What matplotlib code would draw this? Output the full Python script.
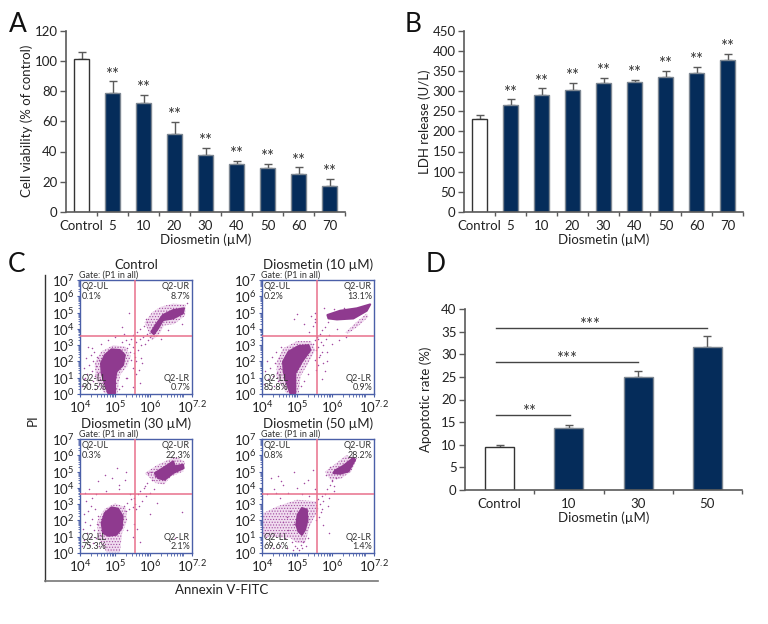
import numpy as np
import matplotlib
matplotlib.use("Agg")
import matplotlib.pyplot as plt
from matplotlib.lines import Line2D

plt.rcParams['font.family'] = ['Lato', 'DejaVu Sans']
plt.rcParams['mathtext.default'] = 'regular'
plt.rcParams['hatch.linewidth'] = 0.5

W, H = 768, 624
NAVY = '#052c5a'
GREY = '#5a5a5a'
BLUE = '#4a5fa8'
PINK = '#e8708c'
CORE = '#8f3a8f'
HALO = '#f0dcef'
DOT = '#a24aa0'

# Panel A
doses_ab = ['Control', '5', '10', '20', '30', '40', '50', '60', '70']
viability = [101, 78.5, 72, 51.5, 37.5, 31.5, 29, 25, 17]
viability_top = [105.5, 86.5, 77.5, 59.5, 42.5, 34, 32, 29.5, 22]

# Panel B
ldh = [230, 265, 290, 302, 320, 323, 334, 344, 377]
ldh_top = [240, 279, 307, 320, 332, 328, 350, 360, 392]

# Panel D
doses_d = ['Control', '10', '30', '50']
apoptosis = [9.4, 13.8, 25, 31.7]
apoptosis_top = [9.9, 14.3, 26.2, 34]
bracket_end = [1.02, 2.0, 2.99]
bracket_y = [16.5, 28.2, 35.7]
bracket_text = ['**', '***', '***']
bracket_text_x = [0.42, 0.97, 1.3]

# Panel C, log10 values
flow_titles = ['Control', 'Diosmetin (10 µM)', 'Diosmetin (30 µM)', 'Diosmetin (50 µM)']
flow_ul = ['0.1%', '0.2%', '0.3%', '0.8%']
flow_ur = ['8.7%', '13.1%', '22.3%', '28.2%']
flow_ll = ['90.5%', '85.8%', '75.3%', '69.6%']
flow_lr = ['0.7%', '0.9%', '2.1%', '1.4%']
gate_x = [5.57, 5.57, 5.57, 5.57]
gate_y = [3.58, 3.58, 3.65, 3.65]

ll_core_x = [[4.81, 4.71, 4.62, 4.60, 4.71, 4.90, 5.14, 5.28, 5.23, 5.04, 5.00, 5.00],
             [4.81, 4.71, 4.62, 4.60, 4.76, 5.04, 5.33, 5.38, 5.14, 4.95, 4.95],
             [4.66, 4.62, 4.71, 4.90, 5.09, 5.22, 5.19, 5.04, 4.81],
             [4.98, 5.02, 5.14, 5.28, 5.30, 5.23, 5.14, 5.04]]
ll_core_y = [[0.04, 0.65, 1.27, 1.88, 2.39, 2.74, 2.70, 2.39, 1.78, 1.37, 0.86, 0.04],
             [0.04, 0.65, 1.37, 1.98, 2.60, 2.94, 3.00, 2.70, 1.98, 1.27, 0.04],
             [1.23, 1.84, 2.45, 2.80, 2.72, 2.25, 1.53, 1.12, 1.06],
             [1.74, 2.35, 2.76, 2.66, 2.04, 1.43, 1.12, 1.33]]
ll_halo_x = [[4.70, 4.45, 4.42, 4.60, 4.95, 5.30, 5.45, 5.35, 5.15, 5.10, 5.08],
             [4.70, 4.42, 4.42, 4.60, 5.00, 5.40, 5.52, 5.30, 5.10, 5.05],
             [4.76, 4.50, 4.50, 4.70, 5.00, 5.30, 5.35, 5.20, 5.14],
             [4.03, 4.43, 5.00, 5.57, 5.61, 5.38, 5.23, 5.00, 4.81, 4.03]]
ll_halo_y = [[0.04, 0.90, 1.90, 2.60, 3.00, 2.90, 2.30, 1.70, 1.20, 0.60, 0.04],
             [0.04, 1.00, 2.00, 2.80, 3.25, 3.25, 2.70, 1.80, 1.10, 0.04],
             [0.04, 1.00, 2.00, 2.70, 3.05, 2.80, 2.00, 1.20, 0.04],
             [2.45, 2.86, 3.27, 3.17, 2.66, 1.74, 0.61, 0.61, 0.92, 1.02]]
ur_core_x = [[6.04, 6.18, 6.37, 6.66, 6.97, 6.94, 6.66, 6.37, 6.23, 6.11],
             [5.87, 6.23, 6.71, 7.09, 6.99, 6.61, 6.14, 5.90],
             [6.14, 6.37, 6.52, 6.66, 6.71, 6.94, 6.96, 6.66, 6.42, 6.23],
             [6.09, 6.33, 6.61, 6.66, 6.47, 6.23, 6.04]]
ur_core_y = [[3.82, 4.29, 4.85, 5.15, 5.26, 4.95, 4.64, 4.54, 4.03, 3.68],
             [4.85, 5.11, 5.26, 5.50, 5.11, 4.64, 4.58, 4.64],
             [4.91, 5.21, 5.42, 5.62, 5.32, 5.42, 5.21, 4.91, 4.50, 4.60],
             [5.07, 5.36, 5.83, 5.73, 5.01, 4.87, 4.91]]
ur_halo_x = [[5.85, 6.05, 6.30, 6.65, 7.02, 7.00, 6.70, 6.40, 6.25, 6.05],
             [6.37, 6.71, 6.99, 7.04, 6.75, 6.47],
             [5.85, 6.20, 6.55, 6.75, 7.00, 6.95, 6.60, 6.40, 6.15],
             [5.80, 6.05, 6.40, 6.72, 6.55, 6.25, 5.95]]
ur_halo_y = [[4.40, 5.00, 5.35, 5.55, 5.50, 4.80, 4.30, 4.20, 3.60, 3.30],
             [3.76, 4.44, 4.95, 4.74, 4.17, 3.72],
             [4.90, 5.40, 5.75, 5.90, 5.60, 5.00, 4.70, 4.20, 4.30],
             [5.00, 5.40, 6.00, 5.85, 5.00, 4.55, 4.50]]

dots_x = [
    [4.05, 4.10, 4.12, 4.18, 4.20, 4.25, 4.28, 4.30, 4.33, 4.36, 4.38, 4.40, 4.42, 4.45, 4.48, 4.50,
     4.52, 4.55, 4.57, 4.35, 4.44, 4.22, 4.15, 5.20, 5.30, 5.35, 5.40, 5.42, 5.45, 5.50, 5.52, 5.55,
     5.60, 5.62, 5.65, 5.70, 5.72, 5.75, 5.80, 5.82, 5.85, 5.90, 5.92, 5.95, 6.00, 5.60, 5.75, 5.50,
     5.88, 5.10, 5.20, 5.35, 5.60, 5.72, 5.50, 6.30, 6.50, 6.90, 4.60, 4.80, 5.00, 5.20, 5.40, 7.05,
     5.68, 5.78, 5.58, 5.47, 5.30, 5.25],
    [4.05, 4.08, 4.15, 4.18, 4.22, 4.28, 4.30, 4.33, 4.36, 4.40, 4.42, 4.45, 4.48, 4.50, 4.55, 4.25,
     5.45, 5.50, 5.55, 5.58, 5.60, 5.65, 5.68, 5.72, 5.75, 5.80, 5.82, 5.88, 5.90, 5.62, 5.52, 5.70,
     5.60, 5.55, 5.75, 5.35, 5.45, 5.50, 5.85, 5.10, 5.20, 5.30, 4.90, 5.00, 5.40, 5.50, 5.52, 5.20,
     5.80, 5.70, 6.00, 6.20, 6.40, 5.60, 5.65, 6.05, 6.15, 6.35, 5.78, 5.85],
    [4.05, 4.08, 4.10, 4.12, 4.15, 4.18, 4.20, 4.22, 4.25, 4.28, 4.30, 4.32, 4.35, 4.38, 4.40, 4.42,
     4.45, 4.48, 4.52, 4.55, 4.58, 4.35, 4.25, 4.15, 5.25, 5.30, 5.35, 5.40, 5.45, 5.50, 5.55, 5.58,
     5.60, 5.65, 5.68, 5.72, 5.78, 5.82, 5.88, 5.92, 6.00, 6.05, 6.10, 6.15, 5.55, 5.62, 5.50, 5.70,
     5.85, 5.95, 6.02, 4.50, 4.70, 4.90, 5.10, 5.30, 4.45, 5.35, 6.00, 6.20, 6.70, 6.90, 4.75, 5.05,
     5.42, 5.28, 5.12],
    [4.60, 4.65, 4.70, 4.75, 4.80, 4.85, 4.90, 4.95, 4.55, 4.45, 4.35, 4.25, 4.15, 4.10, 4.30, 4.50,
     4.70, 4.88, 5.05, 5.10, 5.18, 5.25, 5.30, 5.15, 5.00, 5.60, 5.65, 5.70, 5.75, 5.80, 5.85, 5.90,
     5.95, 6.00, 5.72, 5.62, 5.68, 5.55, 5.88, 5.75, 5.90, 6.05, 5.82, 4.50, 4.60, 4.75, 5.00, 5.15,
     5.30, 5.45, 5.35, 4.40, 4.90, 5.20, 5.50, 5.95, 6.10, 6.20, 6.05, 6.00],
]
dots_y = [
    [0.50, 1.60, 0.90, 2.20, 1.20, 1.80, 0.60, 2.40, 1.40, 2.00, 0.80, 2.60, 1.10, 1.70, 2.30, 0.50,
     1.30, 2.10, 0.90, 2.80, 0.30, 2.90, 1.00, 3.20, 3.30, 2.80, 3.10, 2.60, 3.40, 2.90, 3.60, 2.50,
     3.20, 3.80, 2.70, 3.40, 4.00, 3.00, 3.50, 4.20, 3.10, 3.70, 4.40, 3.30, 3.50, 2.00, 2.20, 1.60,
     4.60, 0.30, 0.50, 1.00, 1.20, 0.70, 0.40, 3.40, 3.90, 4.30, 3.10, 3.30, 3.50, 4.10, 5.00, 5.60,
     1.50, 1.90, 2.30, 2.10, 1.00, 3.70],
    [0.60, 1.40, 2.00, 0.90, 1.60, 2.30, 1.10, 0.50, 1.90, 2.60, 1.30, 0.80, 2.20, 1.60, 2.90, 0.30,
     3.10, 3.30, 2.70, 3.50, 2.90, 3.70, 3.20, 3.90, 3.00, 4.10, 3.40, 4.40, 3.60, 2.30, 2.10, 2.60,
     1.80, 1.50, 1.90, 3.80, 4.20, 4.60, 2.60, 0.50, 0.80, 1.20, 4.60, 4.90, 4.80, 5.00, 4.40, 4.30,
     1.40, 0.90, 3.10, 3.30, 3.50, 3.40, 2.40, 5.20, 4.00, 5.30, 5.30, 2.00],
    [0.40, 1.50, 2.40, 0.80, 1.90, 3.20, 1.20, 2.60, 0.50, 1.70, 2.90, 1.00, 2.10, 0.60, 1.40, 2.70,
     0.90, 1.80, 2.30, 0.40, 1.10, 3.40, 3.90, 3.70, 2.90, 2.60, 3.10, 2.70, 3.30, 2.80, 3.40, 3.00,
     2.70, 3.60, 2.90, 3.80, 3.20, 4.00, 3.50, 4.30, 3.70, 4.50, 3.90, 4.70, 1.80, 1.50, 1.00, 0.70,
     4.10, 4.90, 5.00, 4.40, 4.80, 4.60, 4.20, 5.00, 3.60, 1.40, 2.40, 3.10, 0.90, 2.50, 3.80, 5.20,
     3.60, 4.50, 3.90],
    [1.90, 0.90, 2.20, 1.40, 2.60, 0.70, 1.80, 0.40, 4.40, 4.70, 3.90, 4.60, 3.60, 1.00, 0.30, 0.40,
     0.30, 0.20, 0.20, 0.50, 0.70, 0.40, 0.90, 0.30, 0.30, 3.30, 3.00, 3.50, 3.20, 3.60, 3.90, 3.40,
     4.20, 4.50, 2.70, 2.20, 2.50, 2.00, 2.90, 1.70, 1.20, 3.80, 4.80, 3.40, 4.20, 3.70, 4.00, 3.60,
     4.50, 5.10, 3.50, 3.70, 5.00, 4.30, 3.90, 5.30, 4.60, 5.00, 4.10, 4.40],
]

fig = plt.figure(figsize=(W / 100, H / 100), dpi=100)


def add_axes_px(left, top, right, bottom):
    return fig.add_axes([left / W, 1 - bottom / H, (right - left) / W, (bottom - top) / H])


def bar_panel(ax, labels, values, tops, ylim, yticks, ylabel, width, stars=True):
    xs = np.arange(len(values))
    colors = ['white'] + [NAVY] * (len(values) - 1)
    edges = ['#333333'] + ['#7d8792'] * (len(values) - 1)
    errs = np.array(tops) - np.array(values)
    ax.bar(xs, values, width=width, color=colors, edgecolor=edges, linewidth=1.0, zorder=2)
    ax.errorbar(xs, values, yerr=[np.zeros(len(errs)), errs], fmt='none', ecolor=GREY,
                elinewidth=1.0, capsize=3.2, capthick=1.0, zorder=1)
    ax.set_xlim(-0.5, len(values) - 0.5)
    ax.set_ylim(*ylim)
    ax.set_yticks(yticks)
    ax.set_xticks(xs)
    ax.set_xticklabels(labels)
    ax.set_xticks(np.arange(len(values)) + 0.5, minor=True)
    ax.tick_params(axis='x', which='major', length=0, pad=6, labelsize=9.5, colors='#222222')
    ax.tick_params(axis='x', which='minor', length=3, width=1.0, color=GREY)
    ax.tick_params(axis='y', length=4, width=1.0, color=GREY, labelsize=9.5, pad=2, labelcolor='#222222')
    ax.set_ylabel(ylabel, fontsize=9.5, color='#222222')
    ax.yaxis.set_label_coords(-33 / 279, 0.5)
    ax.set_xlabel('Diosmetin (µM)', fontsize=9.5, color='#222222', labelpad=1)
    for side in ['top', 'right']:
        ax.spines[side].set_visible(False)
    for side in ['left', 'bottom']:
        ax.spines[side].set_color(GREY)
        ax.spines[side].set_linewidth(1.2)
    if stars:
        for x, t in zip(xs[1:], tops[1:]):
            ax.annotate('**', (x, t), xytext=(0, -1), textcoords='offset points', ha='center',
                        va='bottom', fontsize=12, color='#333333')


ax_a = add_axes_px(66, 30.5, 345, 212)
bar_panel(ax_a, doses_ab, viability, viability_top, (0, 120), range(0, 121, 20),
          'Cell viability (% of control)', 0.48)

ax_b = add_axes_px(464, 30.5, 743, 212)
bar_panel(ax_b, doses_ab, ldh, ldh_top, (0, 450), range(0, 451, 50), 'LDH release (U/L)', 0.48)

ax_d = add_axes_px(465, 309, 742, 490)
bar_panel(ax_d, doses_d, apoptosis, apoptosis_top, (0, 40), range(0, 41, 5), 'Apoptotic rate (%)',
          0.42, stars=False)
for end, y, txt, tx in zip(bracket_end, bracket_y, bracket_text, bracket_text_x):
    ax_d.plot([-0.05, end], [y, y], color='#444444', lw=1.0)
    ax_d.text(tx, y - 1.0, txt, ha='center', va='bottom', fontsize=12, color='#333333')

# flow cytometry panels
flow_boxes = [(80, 280, 192, 394), (262, 280, 374, 394), (80, 439, 192, 553), (262, 439, 374, 553)]
minor_steps = np.log10(np.arange(2, 10))
for i, box in enumerate(flow_boxes):
    ax = add_axes_px(*box)
    for hx, hy in [(ur_halo_x[i], ur_halo_y[i]), (ll_halo_x[i], ll_halo_y[i])]:
        ax.fill(hx, hy, facecolor=HALO, edgecolor=DOT, hatch='......', lw=0, zorder=1)
    ax.scatter(dots_x[i], dots_y[i], s=1.2, color=DOT, linewidths=0, zorder=2)
    for cx, cy in [(ur_core_x[i], ur_core_y[i]), (ll_core_x[i], ll_core_y[i])]:
        ax.fill(cx, cy, facecolor=CORE, edgecolor=CORE, lw=1.5, joinstyle='round', zorder=3)
    ax.axvline(gate_x[i], color=PINK, lw=1.1, zorder=4)
    ax.axhline(gate_y[i], color=PINK, lw=1.1, zorder=4)
    ax.set_xlim(4, 7.2)
    ax.set_ylim(0, 7)
    ax.set_xticks([4, 5, 6, 7.2])
    ax.set_xticklabels(['10$^{4}$', '10$^{5}$', '10$^{6}$', '10$^{7.2}$'])
    ax.set_yticks(range(8))
    ax.set_yticklabels(['10$^{%d}$' % n for n in range(8)])
    x_minor = [d + m for d in range(4, 7) for m in minor_steps]
    y_minor = [d + m for d in range(7) for m in minor_steps]
    ax.set_xticks([v for v in x_minor if v < 7.2], minor=True)
    ax.set_yticks(y_minor, minor=True)
    ax.tick_params(axis='both', which='major', length=2.5, width=0.8, color=BLUE, labelsize=9.5,
                   pad=1.5, labelcolor='#222222')
    ax.tick_params(axis='both', which='minor', length=1.8, width=0.6, color=BLUE)
    for spine in ax.spines.values():
        spine.set_color(BLUE)
        spine.set_linewidth(1.0)
    small = dict(fontsize=6.5, color='#333333', zorder=5, linespacing=1.05)
    ax.text(4.05, 6.85, 'Q2-UL\n' + flow_ul[i], ha='left', va='top', **small)
    ax.text(7.15, 6.85, 'Q2-UR\n' + flow_ur[i], ha='right', va='top', **small)
    ax.text(4.05, 0.12, 'Q2-LL\n' + flow_ll[i], ha='left', va='bottom', **small)
    ax.text(7.15, 0.12, 'Q2-LR\n' + flow_lr[i], ha='right', va='bottom', **small)
    ax.text(3.98, 7.02, 'Gate: (P1 in all)', ha='left', va='bottom', fontsize=6.5, color='#333333')
    ax.text(5.6, 7.55, flow_titles[i], ha='center', va='bottom', fontsize=9.5, color='#222222')

# frame around panel C
fig.add_artist(Line2D([45 / W, 45 / W], [1 - 275 / H, 1 - 581 / H], color='#333333', lw=1.0))
fig.add_artist(Line2D([45 / W, 378 / W], [1 - 581 / H, 1 - 581 / H], color='#777777', lw=1.2))
fig.text(33 / W, 1 - 420 / H, 'PI', rotation=90, ha='center', va='center', fontsize=9.5, color='#222222')
fig.text(222 / W, 1 - 590 / H, 'Annexin V-FITC', ha='center', va='center', fontsize=9.5, color='#222222')

for letter, x, y in [('A', 18, 25), ('B', 413, 25), ('C', 17, 265), ('D', 436, 265)]:
    fig.text(x / W, 1 - y / H, letter, ha='center', va='center', fontsize=19, color='#111111')

fig.savefig('out.png', dpi=100)
